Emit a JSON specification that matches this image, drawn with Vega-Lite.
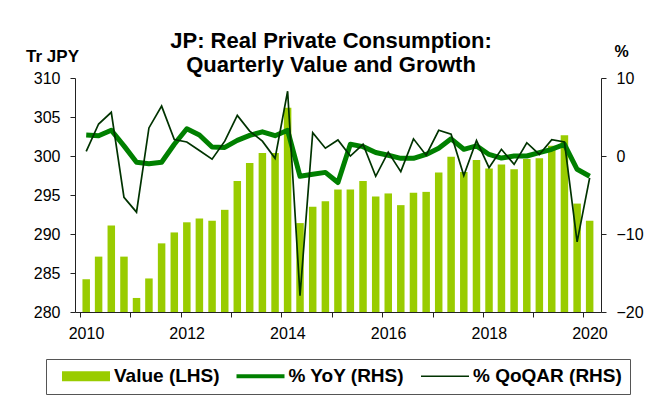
{
  "$schema": "https://vega.github.io/schema/vega-lite/v6.json",
  "width": 526,
  "height": 234,
  "autosize": {"type": "none"},
  "padding": {"left": 75, "top": 78, "right": 45, "bottom": 89},
  "background": "white",
  "config": {
    "font": "Liberation Sans",
    "view": {"stroke": null},
    "axis": {"grid": false, "domainColor": "#222", "tickColor": "#222", "labelColor": "black", "labelFont": "Liberation Sans", "labelFontSize": 16, "tickSize": 5, "titleFont": "Liberation Sans", "titleColor": "black"},
    "legend": {"strokeColor": "#555555", "fillColor": "white", "strokeWidth": 1, "layout": {"bottom": {"anchor": "middle"}}}
  },
  "title": {
    "text": ["JP: Real Private Consumption:", "Quarterly Value and Growth"],
    "font": "Liberation Sans",
    "fontSize": 22,
    "fontWeight": "bold",
    "color": "black",
    "anchor": "middle",
    "frame": "group",
    "lineHeight": 24,
    "dx": -7,
    "dy": 34,
    "offset": 0
  },
  "data": {
    "values": [
      {"q": "2010-02-15", "value": 284.2, "yoy": 2.7, "qoqar": 0.6},
      {"q": "2010-05-16", "value": 287.1, "yoy": 2.6, "qoqar": 4.1},
      {"q": "2010-08-16", "value": 291.1, "yoy": 3.3, "qoqar": 5.6},
      {"q": "2010-11-16", "value": 287.1, "yoy": 1.3, "qoqar": -5.3},
      {"q": "2011-02-15", "value": 281.8, "yoy": -0.8, "qoqar": -7.2},
      {"q": "2011-05-16", "value": 284.3, "yoy": -1.0, "qoqar": 3.6},
      {"q": "2011-08-16", "value": 288.8, "yoy": -0.8, "qoqar": 6.4},
      {"q": "2011-11-16", "value": 290.2, "yoy": 1.5, "qoqar": 2.1},
      {"q": "2012-02-15", "value": 291.5, "yoy": 3.5, "qoqar": 1.8},
      {"q": "2012-05-16", "value": 292.0, "yoy": 2.7, "qoqar": 0.7},
      {"q": "2012-08-16", "value": 291.7, "yoy": 1.15, "qoqar": -0.4},
      {"q": "2012-11-16", "value": 293.1, "yoy": 1.1, "qoqar": 1.9},
      {"q": "2013-02-15", "value": 296.8, "yoy": 2.0, "qoqar": 5.2},
      {"q": "2013-05-16", "value": 299.1, "yoy": 2.65, "qoqar": 3.2},
      {"q": "2013-08-16", "value": 300.4, "yoy": 3.1, "qoqar": 1.9},
      {"q": "2013-11-16", "value": 300.4, "yoy": 2.6, "qoqar": -0.3},
      {"q": "2014-02-15", "value": 306.2, "yoy": 3.3, "qoqar": 8.3},
      {"q": "2014-05-16", "value": 291.4, "yoy": -2.6, "qoqar": -17.9},
      {"q": "2014-08-16", "value": 293.5, "yoy": -2.35, "qoqar": 3.0},
      {"q": "2014-11-16", "value": 294.2, "yoy": -2.1, "qoqar": 1.0},
      {"q": "2015-02-15", "value": 295.7, "yoy": -3.4, "qoqar": 2.05},
      {"q": "2015-05-16", "value": 295.7, "yoy": 1.5, "qoqar": 0.0},
      {"q": "2015-08-16", "value": 296.8, "yoy": 1.2, "qoqar": 1.5},
      {"q": "2015-11-16", "value": 294.8, "yoy": 0.45, "qoqar": -2.6},
      {"q": "2016-02-15", "value": 295.2, "yoy": 0.1, "qoqar": 0.5},
      {"q": "2016-05-16", "value": 293.7, "yoy": -0.3, "qoqar": -2.0},
      {"q": "2016-08-16", "value": 295.3, "yoy": -0.3, "qoqar": 2.2},
      {"q": "2016-11-16", "value": 295.4, "yoy": 0.2, "qoqar": 0.1},
      {"q": "2017-02-15", "value": 297.9, "yoy": 1.0, "qoqar": 3.3},
      {"q": "2017-05-16", "value": 299.9, "yoy": 2.2, "qoqar": 2.8},
      {"q": "2017-08-16", "value": 297.95, "yoy": 0.86, "qoqar": -2.5},
      {"q": "2017-11-16", "value": 299.5, "yoy": 1.3, "qoqar": 2.0},
      {"q": "2018-02-15", "value": 298.4, "yoy": 0.2, "qoqar": -1.5},
      {"q": "2018-05-16", "value": 298.9, "yoy": -0.26, "qoqar": 0.86},
      {"q": "2018-08-16", "value": 298.3, "yoy": 0.0, "qoqar": -1.07},
      {"q": "2018-11-16", "value": 299.6, "yoy": 0.0, "qoqar": 1.7},
      {"q": "2019-02-15", "value": 299.7, "yoy": 0.43, "qoqar": 0.2},
      {"q": "2019-05-16", "value": 301.3, "yoy": 0.86, "qoqar": 2.1},
      {"q": "2019-08-16", "value": 302.65, "yoy": 1.5, "qoqar": 1.8},
      {"q": "2019-11-16", "value": 293.9, "yoy": -1.7, "qoqar": -11.0},
      {"q": "2020-02-15", "value": 291.7, "yoy": -2.6, "qoqar": -2.8}
    ]
  },
  "encoding": {
    "x": {
      "field": "q",
      "type": "temporal",
      "scale": {
        "type": "utc",
        "nice": false,
        "domain": [
          {"year": 2010, "month": 1, "date": 1, "utc": true},
          {"year": 2020, "month": 4, "date": 1, "utc": true}
        ]
      },
      "axis": {
        "title": null,
        "values": [
          {"year": 2010, "month": 1, "date": 1, "utc": true},
          {"year": 2011, "month": 1, "date": 1, "utc": true},
          {"year": 2012, "month": 1, "date": 1, "utc": true},
          {"year": 2013, "month": 1, "date": 1, "utc": true},
          {"year": 2014, "month": 1, "date": 1, "utc": true},
          {"year": 2015, "month": 1, "date": 1, "utc": true},
          {"year": 2016, "month": 1, "date": 1, "utc": true},
          {"year": 2017, "month": 1, "date": 1, "utc": true},
          {"year": 2018, "month": 1, "date": 1, "utc": true},
          {"year": 2019, "month": 1, "date": 1, "utc": true},
          {"year": 2020, "month": 1, "date": 1, "utc": true}
        ],
        "labelExpr": "utcyear(datum.value) % 2 === 0 ? utcFormat(datum.value, '%Y') : ''",
        "labelOffset": 6,
        "labelPadding": 8,
        "labelFlush": false,
        "labelOverlap": false
      }
    }
  },
  "layer": [
    {
      "mark": {"type": "bar", "size": 7.5},
      "encoding": {
        "y": {
          "field": "value",
          "type": "quantitative",
          "scale": {"domain": [280, 310], "nice": false, "zero": false},
          "axis": {
            "orient": "left",
            "values": [280, 285, 290, 295, 300, 305, 310],
            "labelPadding": 10,
            "title": "Tr JPY",
            "titleAngle": 0,
            "titleAlign": "center",
            "titleBaseline": "alphabetic",
            "titleX": -23,
            "titleY": -17,
            "titleFontSize": 17,
            "titleFontWeight": "bold"
          }
        },
        "y2": {"datum": 280},
        "color": {
          "datum": "Value (LHS)",
          "type": "nominal",
          "scale": {
            "domain": ["Value (LHS)", "% YoY (RHS)", "% QoQAR (RHS)"],
            "range": ["#99cc00", "#008000", "#003300"]
          },
          "legend": {
            "orient": "bottom",
            "offset": 18,
            "direction": "horizontal",
            "title": null,
            "strokeColor": "#555555",
            "fillColor": "white",
            "padding": 7.5,
            "columnPadding": 7.5,
            "symbolSize": 100,
            "symbolStrokeWidth": 0,
            "symbolOffset": 23,
            "labelOffset": 18.5,
            "labelFont": "Liberation Sans",
            "labelFontSize": 19,
            "labelFontWeight": "bold",
            "labelColor": "black",
            "labelLimit": 300,
            "encode": {
              "symbols": {
                "update": {
                  "shape": {"signal": "datum.value === 'Value (LHS)' ? 'M-4.8,-1H4.8V1H-4.8Z' : (datum.value === '% YoY (RHS)' ? 'M-4.8,-0.4H4.8V0.4H-4.8Z' : 'M-4.8,-0.16H4.8V0.16H-4.8Z')"},
                  "fill": {"signal": "datum.value === 'Value (LHS)' ? '#99cc00' : (datum.value === '% YoY (RHS)' ? '#008000' : '#003300')"},
                  "fillOpacity": {"value": 1},
                  "strokeWidth": {"value": 0},
                  "opacity": {"value": 1}
                }
              }
            }
          }
        }
      }
    },
    {
      "layer": [
        {
          "mark": {"type": "rule", "color": "#ff0000", "strokeWidth": 2, "strokeDash": [6, 3]},
          "encoding": {"y": {"datum": 0, "type": "quantitative"}}
        },
        {
          "mark": {"type": "line", "strokeWidth": 5, "strokeJoin": "round", "strokeCap": "butt"},
          "encoding": {
            "y": {
              "field": "yoy",
              "type": "quantitative",
              "scale": {"domain": [-20, 10], "nice": false, "zero": false},
              "axis": {
                "orient": "right",
                "values": [-20, -15, -10, -5, 0, 5, 10],
                "labelPadding": 10,
                "title": "%",
                "titleAngle": 0,
                "titleAlign": "center",
                "titleBaseline": "alphabetic",
                "titleX": 20,
                "titleY": -22,
                "titleFontSize": 16,
                "titleFontWeight": "bold"
              }
            },
            "color": {"datum": "% YoY (RHS)", "type": "nominal"}
          }
        },
        {
          "mark": {"type": "line", "strokeWidth": 1.7},
          "encoding": {
            "y": {
              "field": "qoqar",
              "type": "quantitative",
              "scale": {"domain": [-20, 10], "nice": false, "zero": false},
              "axis": {
                "orient": "right",
                "values": [-20, -15, -10, -5, 0, 5, 10],
                "labelPadding": 10,
                "title": "%",
                "titleAngle": 0,
                "titleAlign": "center",
                "titleBaseline": "alphabetic",
                "titleX": 20,
                "titleY": -22,
                "titleFontSize": 16,
                "titleFontWeight": "bold"
              }
            },
            "color": {"datum": "% QoQAR (RHS)", "type": "nominal"}
          }
        }
      ]
    }
  ],
  "resolve": {"scale": {"y": "independent"}, "axis": {"y": "independent"}}
}
